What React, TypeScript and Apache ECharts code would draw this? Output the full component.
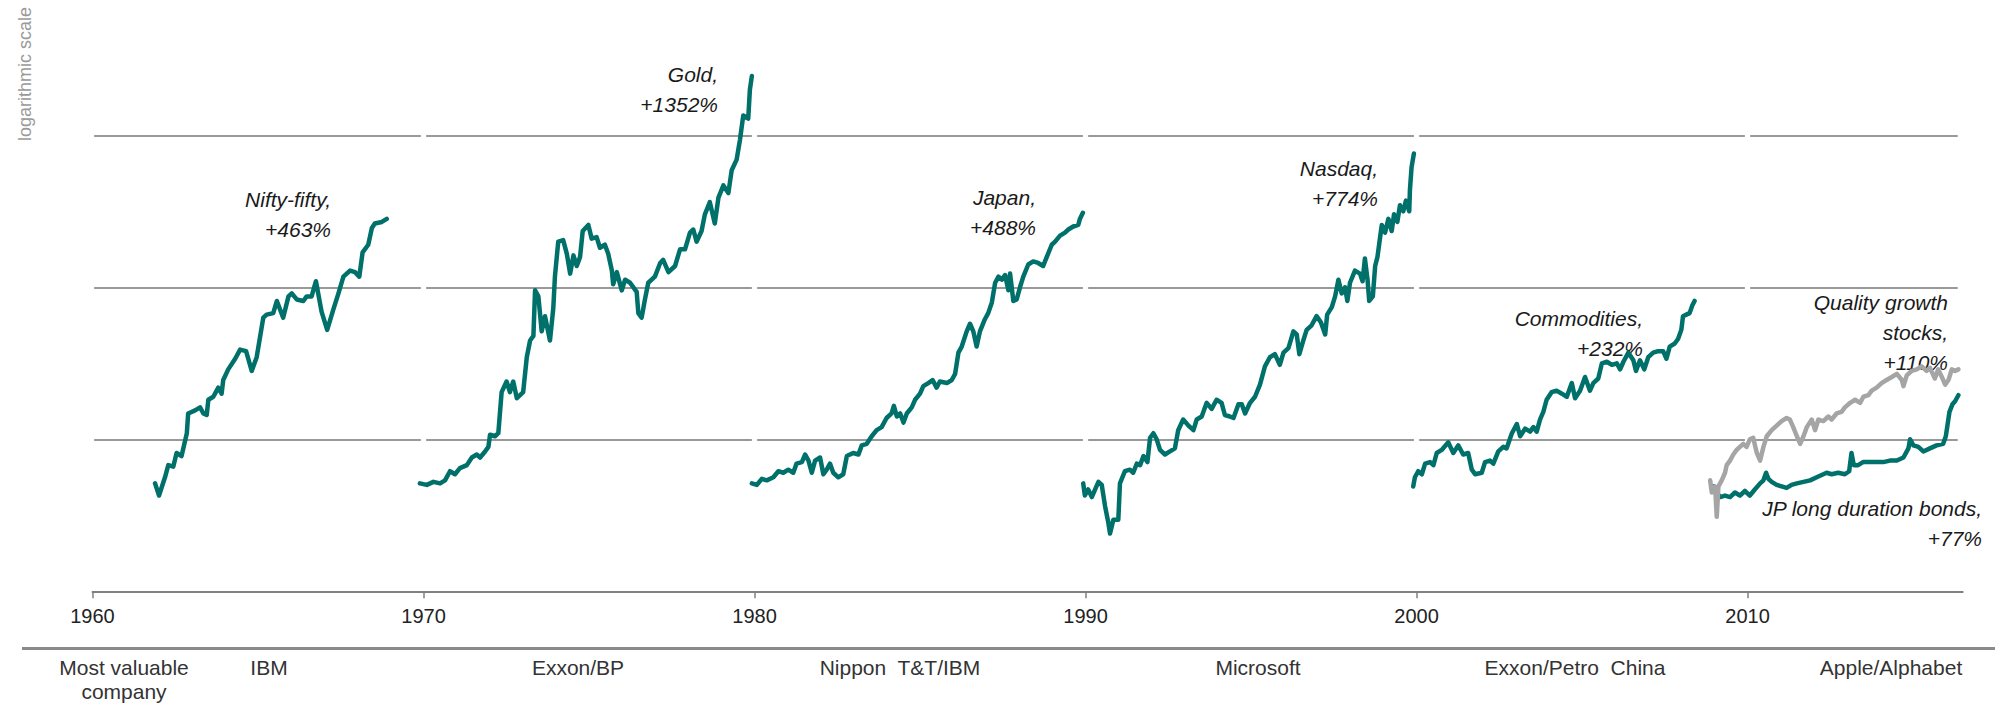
import React, { useEffect, useRef } from "react";
import * as echarts from "echarts";

// ---------- data (x = year, y = natural-log level of the index; rules at e, e², e³) ----------
const decadeTicks = [1960, 1970, 1980, 1990, 2000, 2010];
const gridLevels = [1, 2, 3];

const niftyFifty: [number, number][] = [
  [1961.89, 0.71], [1962.01, 0.63], [1962.19, 0.75], [1962.29, 0.83], [1962.44, 0.82], [1962.54, 0.91],
  [1962.69, 0.89], [1962.85, 1.04], [1962.89, 1.17], [1963.1, 1.19], [1963.25, 1.21], [1963.35, 1.17],
  [1963.45, 1.16], [1963.5, 1.26], [1963.65, 1.28], [1963.8, 1.34], [1963.9, 1.3], [1963.95, 1.39],
  [1964.1, 1.46], [1964.31, 1.53], [1964.46, 1.59], [1964.64, 1.58], [1964.81, 1.45], [1964.96, 1.54],
  [1965.16, 1.8], [1965.26, 1.82], [1965.46, 1.83], [1965.57, 1.91], [1965.76, 1.8], [1965.92, 1.94],
  [1966.02, 1.96], [1966.17, 1.92], [1966.37, 1.91], [1966.47, 1.94], [1966.62, 1.94], [1966.75, 2.04],
  [1966.92, 1.84], [1967.09, 1.72], [1967.27, 1.85], [1967.43, 1.96], [1967.58, 2.07], [1967.78, 2.11],
  [1967.93, 2.1], [1968.06, 2.07], [1968.16, 2.23], [1968.33, 2.28], [1968.44, 2.39], [1968.53, 2.42],
  [1968.74, 2.43], [1968.89, 2.45],
];

const gold: [number, number][] = [
  [1969.89, 0.71], [1970.1, 0.7], [1970.3, 0.72], [1970.5, 0.71], [1970.65, 0.73], [1970.8, 0.79],
  [1970.95, 0.77], [1971.1, 0.81], [1971.31, 0.83], [1971.46, 0.88], [1971.61, 0.9], [1971.71, 0.88],
  [1971.86, 0.92], [1971.96, 0.95], [1972.01, 1.03], [1972.16, 1.02], [1972.26, 1.04], [1972.36, 1.31],
  [1972.51, 1.38], [1972.61, 1.31], [1972.71, 1.38], [1972.82, 1.27], [1973.01, 1.31], [1973.12, 1.54],
  [1973.22, 1.65], [1973.32, 1.68], [1973.37, 1.98], [1973.47, 1.94], [1973.57, 1.71], [1973.67, 1.81],
  [1973.82, 1.65], [1973.92, 1.86], [1973.97, 2.07], [1974.07, 2.3], [1974.22, 2.31], [1974.33, 2.22],
  [1974.43, 2.09], [1974.53, 2.21], [1974.63, 2.14], [1974.73, 2.2], [1974.81, 2.37], [1974.98, 2.41],
  [1975.08, 2.32], [1975.23, 2.33], [1975.33, 2.26], [1975.48, 2.28], [1975.58, 2.22], [1975.69, 2.11],
  [1975.73, 2.02], [1975.84, 2.1], [1975.99, 1.98], [1976.09, 2.05], [1976.24, 2.03], [1976.44, 1.97],
  [1976.49, 1.83], [1976.59, 1.8], [1976.69, 1.92], [1976.79, 2.03], [1976.99, 2.07], [1977.15, 2.16],
  [1977.24, 2.18], [1977.4, 2.1], [1977.6, 2.14], [1977.75, 2.25], [1977.9, 2.25], [1978.05, 2.36],
  [1978.15, 2.38], [1978.25, 2.3], [1978.4, 2.37], [1978.5, 2.48], [1978.65, 2.56], [1978.8, 2.42],
  [1978.91, 2.59], [1979.06, 2.67], [1979.21, 2.62], [1979.31, 2.77], [1979.46, 2.84], [1979.56, 2.97],
  [1979.66, 3.13], [1979.81, 3.11], [1979.86, 3.3], [1979.92, 3.39],
];

const japan: [number, number][] = [
  [1979.92, 0.71], [1980.07, 0.7], [1980.22, 0.74], [1980.37, 0.73], [1980.57, 0.75], [1980.72, 0.79],
  [1980.87, 0.78], [1981.02, 0.8], [1981.17, 0.78], [1981.27, 0.84], [1981.43, 0.85], [1981.53, 0.9],
  [1981.63, 0.86], [1981.73, 0.78], [1981.83, 0.86], [1981.98, 0.88], [1982.08, 0.77], [1982.18, 0.8],
  [1982.28, 0.84], [1982.38, 0.78], [1982.53, 0.75], [1982.68, 0.77], [1982.79, 0.89], [1982.98, 0.91],
  [1983.14, 0.9], [1983.24, 0.96], [1983.39, 0.97], [1983.54, 1.02], [1983.69, 1.06], [1983.84, 1.08],
  [1983.99, 1.14], [1984.14, 1.17], [1984.21, 1.22], [1984.3, 1.15], [1984.4, 1.17], [1984.5, 1.11],
  [1984.6, 1.17], [1984.75, 1.21], [1984.85, 1.26], [1985.0, 1.3], [1985.1, 1.35], [1985.25, 1.37],
  [1985.38, 1.39], [1985.5, 1.34], [1985.6, 1.38], [1985.81, 1.37], [1985.96, 1.39], [1986.06, 1.43],
  [1986.16, 1.57], [1986.26, 1.61], [1986.41, 1.71], [1986.51, 1.76], [1986.61, 1.71], [1986.71, 1.61],
  [1986.81, 1.71], [1986.96, 1.79], [1987.06, 1.83], [1987.17, 1.9], [1987.27, 2.03], [1987.37, 2.07],
  [1987.47, 2.05], [1987.57, 2.08], [1987.67, 1.98], [1987.72, 2.09], [1987.82, 1.91], [1987.92, 1.92],
  [1988.02, 2.0], [1988.12, 2.07], [1988.27, 2.15], [1988.42, 2.17], [1988.57, 2.16], [1988.72, 2.14],
  [1988.83, 2.2], [1988.98, 2.28], [1989.08, 2.3], [1989.23, 2.34], [1989.38, 2.36], [1989.48, 2.38],
  [1989.63, 2.4], [1989.78, 2.41], [1989.83, 2.45], [1989.92, 2.49],
];

const nasdaq: [number, number][] = [
  [1989.93, 0.71], [1989.98, 0.63], [1990.08, 0.67], [1990.19, 0.62], [1990.29, 0.67], [1990.39, 0.72],
  [1990.49, 0.7], [1990.59, 0.56], [1990.69, 0.45], [1990.74, 0.38], [1990.84, 0.47], [1990.99, 0.47],
  [1991.04, 0.71], [1991.19, 0.79], [1991.34, 0.8], [1991.44, 0.78], [1991.55, 0.84], [1991.65, 0.83],
  [1991.75, 0.89], [1991.87, 0.85], [1991.95, 1.01], [1992.05, 1.04], [1992.15, 1.0], [1992.25, 0.93],
  [1992.4, 0.9], [1992.55, 0.92], [1992.7, 0.94], [1992.8, 1.06], [1992.95, 1.13], [1993.11, 1.09],
  [1993.26, 1.06], [1993.36, 1.13], [1993.51, 1.15], [1993.66, 1.24], [1993.81, 1.2], [1993.96, 1.26],
  [1994.11, 1.24], [1994.21, 1.16], [1994.36, 1.15], [1994.47, 1.14], [1994.62, 1.23], [1994.72, 1.23],
  [1994.82, 1.17], [1994.97, 1.24], [1995.12, 1.28], [1995.27, 1.36], [1995.42, 1.48], [1995.57, 1.54],
  [1995.72, 1.56], [1995.87, 1.49], [1995.98, 1.57], [1996.13, 1.6], [1996.28, 1.71], [1996.38, 1.69],
  [1996.46, 1.56], [1996.58, 1.65], [1996.68, 1.72], [1996.83, 1.75], [1996.98, 1.81], [1997.11, 1.77],
  [1997.24, 1.69], [1997.3, 1.82], [1997.44, 1.87], [1997.54, 1.94], [1997.64, 2.05], [1997.74, 1.96],
  [1997.84, 2.0], [1997.91, 1.91], [1997.99, 2.03], [1998.14, 2.11], [1998.29, 2.09], [1998.37, 2.04],
  [1998.44, 2.19], [1998.52, 2.05], [1998.57, 1.91], [1998.68, 1.94], [1998.75, 2.14], [1998.82, 2.2],
  [1998.9, 2.33], [1998.95, 2.41], [1999.05, 2.36], [1999.15, 2.45], [1999.25, 2.37], [1999.32, 2.48],
  [1999.42, 2.43], [1999.5, 2.54], [1999.6, 2.5], [1999.68, 2.57], [1999.78, 2.5], [1999.8, 2.64],
  [1999.85, 2.79], [1999.92, 2.88],
];

const commodities: [number, number][] = [
  [1999.9, 0.69], [1999.95, 0.75], [2000.05, 0.79], [2000.16, 0.77], [2000.26, 0.84], [2000.41, 0.85],
  [2000.51, 0.83], [2000.61, 0.91], [2000.76, 0.93], [2000.96, 0.98], [2001.11, 0.91], [2001.26, 0.96],
  [2001.41, 0.9], [2001.56, 0.91], [2001.67, 0.8], [2001.77, 0.77], [2001.97, 0.78], [2002.07, 0.85],
  [2002.22, 0.86], [2002.32, 0.84], [2002.47, 0.92], [2002.62, 0.95], [2002.72, 0.94], [2002.88, 1.04],
  [2003.03, 1.1], [2003.13, 1.02], [2003.28, 1.07], [2003.43, 1.05], [2003.53, 1.08], [2003.63, 1.05],
  [2003.73, 1.13], [2003.83, 1.18], [2003.93, 1.26], [2004.08, 1.31], [2004.23, 1.32], [2004.39, 1.3],
  [2004.54, 1.28], [2004.69, 1.37], [2004.79, 1.27], [2004.94, 1.32], [2005.09, 1.41], [2005.24, 1.32],
  [2005.34, 1.37], [2005.49, 1.4], [2005.6, 1.5], [2005.75, 1.51], [2005.9, 1.49], [2006.05, 1.5],
  [2006.15, 1.46], [2006.25, 1.51], [2006.4, 1.57], [2006.55, 1.52], [2006.63, 1.45], [2006.75, 1.52],
  [2006.88, 1.46], [2007.0, 1.54], [2007.15, 1.57], [2007.3, 1.58], [2007.45, 1.58], [2007.55, 1.53],
  [2007.65, 1.61], [2007.8, 1.63], [2007.9, 1.66], [2008.0, 1.72], [2008.05, 1.81], [2008.15, 1.82],
  [2008.25, 1.83], [2008.33, 1.88], [2008.4, 1.91],
];

const qualityGrowth: [number, number][] = [
  [2008.87, 0.73], [2008.92, 0.65], [2009.02, 0.69], [2009.07, 0.49], [2009.12, 0.69], [2009.22, 0.73],
  [2009.32, 0.78], [2009.37, 0.83], [2009.47, 0.86], [2009.57, 0.9], [2009.67, 0.93], [2009.77, 0.95],
  [2009.87, 0.97], [2009.97, 0.95], [2010.07, 1.0], [2010.17, 1.01], [2010.28, 0.91], [2010.38, 0.86],
  [2010.48, 0.95], [2010.58, 1.02], [2010.73, 1.06], [2010.88, 1.09], [2011.03, 1.12], [2011.18, 1.14],
  [2011.28, 1.13], [2011.38, 1.08], [2011.49, 1.02], [2011.59, 0.97], [2011.69, 1.02], [2011.79, 1.08],
  [2011.94, 1.13], [2012.04, 1.06], [2012.14, 1.13], [2012.29, 1.12], [2012.44, 1.15], [2012.54, 1.13],
  [2012.69, 1.17], [2012.84, 1.18], [2012.94, 1.21], [2013.1, 1.24], [2013.25, 1.26], [2013.4, 1.24],
  [2013.5, 1.28], [2013.65, 1.29], [2013.75, 1.32], [2013.9, 1.34], [2014.05, 1.37], [2014.2, 1.39],
  [2014.36, 1.41], [2014.51, 1.43], [2014.66, 1.39], [2014.71, 1.35], [2014.81, 1.42], [2014.96, 1.45],
  [2015.11, 1.46], [2015.26, 1.48], [2015.41, 1.45], [2015.51, 1.47], [2015.66, 1.4], [2015.76, 1.46],
  [2015.87, 1.41], [2015.97, 1.36], [2016.07, 1.39], [2016.17, 1.46], [2016.27, 1.45], [2016.37, 1.46],
];

const jpLongBonds: [number, number][] = [
  [2008.97, 0.69], [2009.07, 0.65], [2009.17, 0.62], [2009.32, 0.63], [2009.47, 0.62], [2009.62, 0.65],
  [2009.77, 0.63], [2009.92, 0.66], [2010.07, 0.63], [2010.22, 0.67], [2010.38, 0.71], [2010.48, 0.73],
  [2010.56, 0.78], [2010.63, 0.74], [2010.73, 0.72], [2010.88, 0.7], [2011.03, 0.69], [2011.18, 0.68],
  [2011.33, 0.7], [2011.49, 0.71], [2011.69, 0.72], [2011.89, 0.73], [2012.09, 0.75], [2012.29, 0.77],
  [2012.39, 0.78], [2012.54, 0.77], [2012.74, 0.78], [2012.94, 0.77], [2013.07, 0.79], [2013.14, 0.91],
  [2013.21, 0.83], [2013.34, 0.83], [2013.49, 0.85], [2013.7, 0.85], [2013.9, 0.85], [2014.1, 0.85],
  [2014.3, 0.86], [2014.51, 0.86], [2014.71, 0.88], [2014.86, 0.94], [2014.91, 1.0], [2015.01, 0.96],
  [2015.16, 0.95], [2015.31, 0.92], [2015.51, 0.94], [2015.71, 0.96], [2015.91, 0.97], [2015.99, 1.02],
  [2016.1, 1.18], [2016.19, 1.23], [2016.27, 1.25], [2016.37, 1.29],
];

const tealSeries = [niftyFifty, gold, japan, nasdaq, commodities, jpLongBonds];

const annotationTexts = [
  ["Nifty-fifty,", "+463%"],
  ["Gold,", "+1352%"],
  ["Japan,", "+488%"],
  ["Nasdaq,", "+774%"],
  ["Commodities,", "+232%"],
  ["Quality growth", "stocks,", "+110%"],
  ["JP long duration bonds,", "+77%"],
];

const companies = [
  "Most valuable\ncompany",
  "IBM",
  "Exxon/BP",
  "Nippon  T&T/IBM",
  "Microsoft",
  "Exxon/Petro  China",
  "Apple/Alphabet",
];

const yAxisNote = "logarithmic scale";

// ---------- layout & style ----------
const W = 1995;
const H = 711;
const TEAL = "#00706a";
const GREY = "#a5a5a5";
const SANS = "'Liberation Sans', Arial, Helvetica, sans-serif";
const X_MIN = 1960;
const X_MAX = 2016.5;
const GRID_END = 2016.35;

// right edge x, top y of each annotation (pixels)
const annotationPos: [number, number][] = [
  [331, 184],
  [718, 59],
  [1036, 182],
  [1378, 153],
  [1643, 303],
  [1948, 287],
  [1982, 493],
];
// centre x of each company label (pixels)
const companyX = [124, 269, 578, 900, 1258, 1575, 1891];

export default function App() {
  const ref = useRef<HTMLDivElement>(null);

  useEffect(() => {
    if (!ref.current) return;
    const chart = echarts.init(ref.current, null, { renderer: "svg" });

    const gridSegments: any[] = [];
    gridLevels.forEach((lv) => {
      decadeTicks.forEach((d) => {
        const x1 = d === X_MIN ? d + 0.05 : d + 0.08;
        const x2 = Math.min(d + 9.92, GRID_END);
        gridSegments.push({ coords: [[x1, lv], [x2, lv]] });
      });
    });

    const lineSeries = (data: [number, number][], color: string, z: number) => ({
      type: "line",
      data,
      showSymbol: false,
      symbol: "none",
      silent: true,
      clip: false,
      z,
      lineStyle: { color, width: 4.5, cap: "round", join: "round" },
    });

    const graphics: any[] = [];
    graphics.push({
      type: "text",
      x: 25,
      y: 74,
      rotation: Math.PI / 2,
      silent: true,
      style: {
        text: yAxisNote,
        fontSize: 18,
        fontFamily: SANS,
        fill: "#9a9a9a",
        align: "center",
        verticalAlign: "middle",
        textAlign: "center",
        textVerticalAlign: "middle",
      },
    });
    annotationTexts.forEach((lines, i) => {
      graphics.push({
        type: "text",
        x: annotationPos[i][0],
        y: annotationPos[i][1],
        silent: true,
        style: {
          text: lines.join("\n"),
          fontSize: 21,
          fontStyle: "italic",
          fontFamily: SANS,
          lineHeight: 30,
          fill: "#1a1a1a",
          align: "right",
          verticalAlign: "top",
          textAlign: "right",
          textVerticalAlign: "top",
        },
      });
    });
    graphics.push({
      type: "rect",
      silent: true,
      shape: { x: 22, y: 647, width: W - 22, height: 3 },
      style: { fill: "#8a8a8a" },
    });
    companies.forEach((c, i) => {
      graphics.push({
        type: "text",
        x: companyX[i],
        y: 655,
        silent: true,
        style: {
          text: c,
          fontSize: 21,
          fontFamily: SANS,
          lineHeight: 24,
          fill: "#333333",
          align: "center",
          verticalAlign: "top",
          textAlign: "center",
          textVerticalAlign: "top",
        },
      });
    });

    const option: any = {
      animation: false,
      backgroundColor: "#ffffff",
      grid: { left: 92.5, right: W - 1962.7, top: 0, bottom: H - 591.3, containLabel: false },
      xAxis: {
        type: "value",
        min: X_MIN,
        max: X_MAX,
        interval: 10,
        axisLine: { show: true, lineStyle: { color: "#808080", width: 2 } },
        axisTick: { show: true, length: 7, lineStyle: { color: "#808080", width: 1.5 } },
        axisLabel: {
          show: true,
          margin: 15,
          fontSize: 20,
          fontFamily: SANS,
          color: "#222222",
          showMaxLabel: false,
          formatter: (v: number) => (decadeTicks.includes(v) ? String(v) : ""),
        },
        splitLine: { show: false },
      },
      yAxis: {
        type: "value",
        min: 0,
        max: 3.89,
        show: false,
        splitLine: { show: false },
      },
      series: [
        {
          type: "lines",
          coordinateSystem: "cartesian2d",
          silent: true,
          z: 1,
          data: gridSegments,
          lineStyle: { color: "#777777", width: 1.6, opacity: 1, curveness: 0 },
        },
        ...tealSeries.map((d) => lineSeries(d, TEAL, 3)),
        lineSeries(qualityGrowth, GREY, 4),
      ],
      graphic: { elements: graphics },
    };

    chart.setOption(option);
    return () => chart.dispose();
  }, []);

  return (
    <div
      ref={ref}
      style={{ position: "absolute", left: 0, top: 0, width: W, height: H, background: "#fff" }}
    />
  );
}
